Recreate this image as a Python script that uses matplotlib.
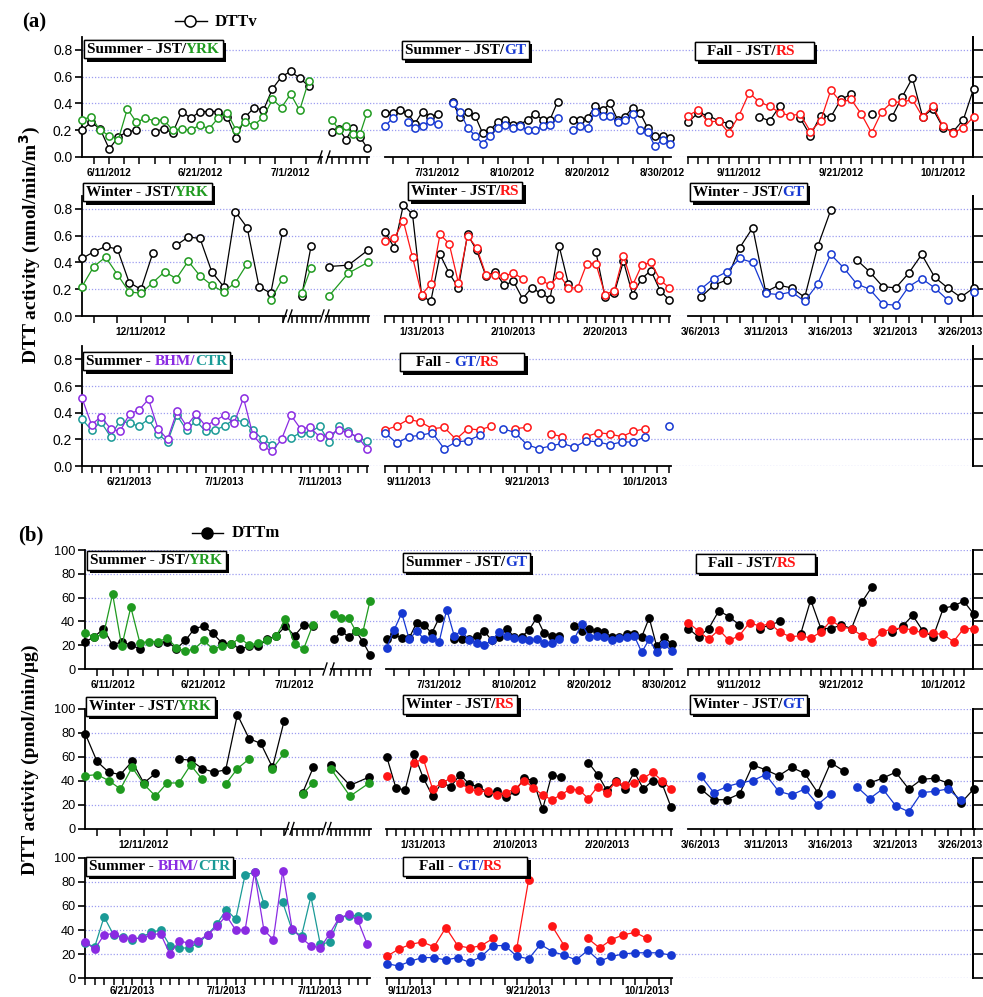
import matplotlib
matplotlib.use('Agg')
import matplotlib.pyplot as plt
import matplotlib.dates as mdates
from matplotlib.lines import Line2D
from matplotlib.offsetbox import TextArea, HPacker, AnchoredOffsetbox, DrawingArea
from matplotlib import patheffects as pe
from matplotlib.ticker import FixedLocator
import numpy as np
import pandas as pd

# ======================= DATA =======================
# ---- (a) DTTv (nmol/min/m3) ----
a_sum12_start = '2012-06-08'
a_sum12_jst = [0.20, 0.26, 0.21, 0.06, 0.15, 0.19, 0.20, None, 0.19, 0.21, 0.18, 0.34, 0.29, 0.34, 0.34, 0.34,
               0.30, 0.14, 0.30, 0.37, 0.35, 0.51, 0.60, 0.64, 0.59, 0.53]
a_sum12_yrk = [0.28, 0.30, 0.20, 0.16, 0.13, 0.36, 0.26, 0.29, 0.27, 0.28, 0.20, 0.21, 0.20, 0.24, 0.21, 0.29,
               0.33, 0.20, 0.26, 0.24, 0.30, 0.43, 0.37, 0.47, 0.35, 0.57]
a_sum12x_dates = ['2012-07-12', '2012-07-13', '2012-07-14', '2012-07-15', '2012-07-16', '2012-07-17']
a_sum12x_jst = [0.19, 0.21, 0.13, 0.22, 0.15, 0.07]
a_sum12x_yrk = [0.28, 0.20, 0.23, 0.17, 0.17, 0.33]

a_gt12_start = '2012-07-24'
a_gt12_jst = [0.33, 0.33, 0.35, 0.33, 0.25, 0.34, 0.30, 0.32, None, 0.41, 0.30, 0.34, 0.31, 0.18, 0.20, 0.26,
              0.28, 0.24, 0.24, 0.28, 0.32, 0.28, 0.28, 0.41, None, 0.28, 0.28, 0.29, 0.38, 0.35, 0.40, 0.28,
              0.30, 0.37, 0.33, 0.22, 0.16, 0.16, 0.14]
a_gt12_gt = [0.23, 0.29, None, 0.26, 0.22, 0.23, 0.27, 0.25, None, 0.40, 0.34, 0.22, 0.16, 0.10, 0.16, 0.22,
             0.24, 0.22, 0.23, 0.20, 0.20, 0.23, 0.24, 0.29, None, 0.20, 0.23, 0.22, 0.34, 0.31, 0.31, 0.26,
             0.28, 0.32, 0.20, 0.19, 0.08, 0.13, 0.10]

a_fall12_start = '2012-09-06'
a_fall12_jst = [0.26, 0.33, 0.31, 0.27, 0.25, None, None, 0.30, 0.27, 0.38, None, 0.29, 0.16, 0.31, 0.30, 0.43,
                0.47, None, 0.32, None, 0.30, 0.45, 0.59, 0.30, 0.36, 0.22, 0.19, 0.28, 0.51]
a_fall12_rs = [0.31, 0.35, 0.26, 0.27, 0.18, 0.31, 0.48, 0.41, 0.38, 0.33, 0.31, 0.32, 0.19, 0.27, 0.50, 0.41,
               0.43, 0.32, 0.18, 0.34, 0.41, 0.41, 0.43, 0.30, 0.38, 0.23, 0.18, 0.22, 0.30]

a_win_yrk_start = '2012-12-06'
a_win_yrk_jst = [0.43, 0.48, 0.52, 0.50, 0.25, 0.20, 0.47, None, 0.53, 0.59, 0.58, 0.33, 0.22, 0.78, 0.66, 0.22,
                 0.17, 0.63]
a_win_yrk_yrk = [0.22, 0.37, 0.44, 0.31, 0.18, 0.17, 0.25, 0.33, 0.28, 0.41, 0.30, 0.23, 0.18, 0.25, 0.39, None,
                 0.12, 0.28]
a_win_yrk2_dates = ['2012-12-27', '2012-12-28']
a_win_yrk2_jst = [0.15, 0.52]
a_win_yrk2_yrk = [0.17, 0.36]
a_win_yrk3_dates = ['2013-01-08', '2013-01-10', '2013-01-12']
a_win_yrk3_jst = [0.37, 0.38, 0.49]
a_win_yrk3_yrk = [0.15, 0.32, 0.40]

a_win_rs_start = '2013-01-27'
a_win_rs_jst = [0.63, 0.51, 0.83, 0.76, 0.15, 0.11, 0.46, 0.32, 0.21, 0.61, 0.49, 0.30, 0.33, 0.23, 0.26, 0.13,
                0.21, 0.17, 0.13, 0.52, 0.24, None, None, 0.48, 0.14, 0.17, 0.41, 0.16, 0.28, 0.34, 0.19, 0.12]
a_win_rs_rs = [0.56, 0.58, 0.71, 0.44, 0.16, 0.24, 0.61, 0.54, 0.25, 0.60, 0.51, 0.31, 0.31, 0.30, 0.32, 0.28,
               None, 0.27, 0.23, 0.31, 0.21, 0.21, 0.39, 0.39, 0.16, 0.19, 0.45, 0.23, 0.38, 0.40, 0.27, 0.21]

a_win_gt_start = '2013-03-06'
a_win_gt_jst = [0.14, 0.23, 0.27, 0.51, 0.66, 0.18, 0.23, 0.21, 0.14, 0.52, 0.79, None, 0.42, 0.33, 0.22, 0.21,
                0.32, 0.46, 0.29, 0.21, 0.14, 0.21]
a_win_gt_gt = [0.20, 0.28, 0.33, 0.43, 0.40, 0.17, 0.16, 0.18, 0.11, 0.24, 0.46, 0.36, 0.24, 0.20, 0.09, 0.08,
               0.22, 0.28, 0.21, 0.12, None, 0.18]

a_sum13_start = '2013-06-16'
a_sum13_bhm = [0.51, 0.31, 0.37, 0.28, 0.26, 0.39, 0.42, 0.50, 0.28, 0.20, 0.41, 0.30, 0.39, 0.30, 0.34, 0.38,
               0.32, 0.51, 0.23, 0.15, 0.11, 0.20, 0.38, 0.28, 0.29, 0.22, 0.23, 0.27, 0.25, 0.22, 0.13]
a_sum13_ctr = [0.35, 0.27, 0.33, 0.22, 0.34, 0.32, 0.30, 0.35, 0.24, 0.18, 0.38, 0.27, 0.34, 0.26, 0.27, 0.30,
               0.35, 0.33, 0.27, 0.20, 0.16, None, 0.21, 0.25, 0.25, 0.30, 0.18, 0.30, 0.26, 0.21, 0.19]

a_fall13_start = '2013-09-09'
a_fall13_rs = [0.27, 0.30, 0.35, 0.33, 0.28, 0.29, 0.20, 0.28, 0.27, 0.30, None, 0.28, 0.29, None, 0.24, 0.22,
               None, 0.22, 0.25, 0.24, 0.22, 0.26, 0.28]
a_fall13_gt = [0.25, 0.17, 0.22, 0.23, 0.25, 0.13, 0.18, 0.19, 0.23, None, 0.28, 0.25, 0.16, 0.13, 0.15, 0.17,
               0.14, 0.19, 0.18, 0.16, 0.18, 0.18, 0.22, None, 0.30]

# ---- (b) DTTm (pmol/min/ug) ----
b_sum12_start = '2012-06-08'
b_sum12_jst = [23, 27, 34, 20, 23, 20, 17, None, 22, 23, 17, 24, 34, 36, 30, 22, 21, 17, 19, 19, 25, 28, 36, 28,
               37, 36]
b_sum12_yrk = [30, 27, 29, 63, 19, 52, 22, 23, 23, 26, 18, 15, 17, 24, 17, 19, 21, 26, 20, 22, 24, 28, 42, 21,
               17, 37]
b_sum12x_dates = ['2012-07-12', '2012-07-13', '2012-07-14', '2012-07-15', '2012-07-16', '2012-07-17']
b_sum12x_jst = [25, 32, 27, 32, 23, 12]
b_sum12x_yrk = [46, 43, 43, 32, 31, 57]

b_gt12_start = '2012-07-24'
b_gt12_jst = [25, 29, 26, 26, 39, 37, 30, 43, None, 25, 25, 25, 28, 32, 24, 27, 34, 27, 27, 33, 43, 30, 28, 28,
              None, 36, 32, 34, 32, 31, 27, 27, 29, 29, 27, 43, 19, 27, 21]
b_gt12_gt = [18, 33, 47, 25, 32, 25, 26, 23, 50, 28, 32, 24, 22, 20, 24, 31, 28, 26, 25, 24, 25, 22, 22, 25,
             None, 25, 38, 27, 28, 27, 24, 26, 27, 28, 14, 25, 14, 21, 15]

b_fall12_start = '2012-09-06'
b_fall12_jst = [34, 27, 34, 49, 44, 37, None, 34, 37, 40, None, 29, 58, 34, 34, 37, 34, 56, 69, None, 31, 36, 45,
                32, 27, 51, 53, 57, 46]
b_fall12_rs = [39, 32, 25, 33, 24, 28, 39, 36, 38, 31, 27, 28, 26, 31, 41, 35, 34, 28, 23, 31, 34, 34, 33, 30,
               30, 29, 23, 34, 34]

b_win_yrk_start = '2012-12-06'
b_win_yrk_jst = [79, 56, 47, 45, 56, 38, 46, None, 58, 57, 50, 47, 49, 95, 75, 71, 51, 90]
b_win_yrk_yrk = [44, 45, 40, 33, 51, 37, 27, 38, 38, 53, 41, None, 37, 50, 58, None, 50, 63]
b_win_yrk2_dates = ['2012-12-27', '2012-12-28']
b_win_yrk2_jst = [30, 51]
b_win_yrk2_yrk = [29, 38]
b_win_yrk3_dates = ['2013-01-08', '2013-01-10', '2013-01-12']
b_win_yrk3_jst = [53, 36, 43]
b_win_yrk3_yrk = [50, 27, 38]

b_win_rs_start = '2013-01-27'
b_win_rs_jst = [60, 34, 32, 62, 42, 27, 38, 35, 45, 37, 35, 30, 31, 26, 31, 42, 40, 16, 45, 43, None, None, 55,
                45, 32, 40, 33, 47, 33, 40, 38, 18]
b_win_rs_rs = [44, None, None, 55, 58, 33, 38, 42, 38, 33, 31, 31, 28, 30, 33, 40, 34, 28, 24, 28, 33, 32, 25,
               35, 30, 39, 36, 38, 42, 47, 40, 33]

b_win_gt_start = '2013-03-06'
b_win_gt_jst = [33, 24, 24, 29, 53, 49, 44, 51, 46, 30, 55, 48, None, 38, 42, 47, 33, 41, 42, 38, 21, 33]
b_win_gt_gt = [44, 30, 35, 38, 40, 45, 31, 28, 33, 20, 29, None, 35, 25, 33, 19, 14, 30, 31, 33, 24, None]

b_sum13_start = '2013-06-16'
b_sum13_bhm = [30, 24, 36, 37, 33, 33, 33, 36, 37, 20, 31, 29, 31, 36, 43, 52, 40, 40, 88, 40, 32, 89, 41, 33,
               27, 25, 37, 50, 53, 48, 28]
b_sum13_ctr = [29, 26, 51, 36, 34, 32, 34, 38, 40, 27, 25, 25, 29, 36, 45, 57, 49, 86, 88, 62, None, 63, 40, 35,
               68, 28, 30, 50, 52, 52, 52]

b_fall13_start = '2013-09-09'
b_fall13_rs = [18, 24, 28, 30, 26, 42, 27, 25, 27, 33, None, 25, 82, None, 43, 27, None, 33, 25, 32, 36, 38, 33]
b_fall13_gt = [12, 10, 14, 17, 17, 15, 17, 13, 18, 27, 27, 18, 16, 28, 22, 19, 15, 23, 14, 18, 20, 21, 21, 21, 19]

# tick labels
a_yticks = [0.0, 0.2, 0.4, 0.6, 0.8]
a_yticklabels = ['0.0', '0.2', '0.4', '0.6', '0.8']
b_yticks = [0, 20, 40, 60, 80, 100]
b_yticklabels = ['0', '20', '40', '60', '80', '100']

# ======================= STYLE =======================
BLACK = 'black'
GREEN = '#1f9a1f'
BLUE = '#1638d2'
RED = '#ff1515'
PURPLE = '#8a2be2'
TEAL = '#1a9a96'
GRID = '#9d9df0'

W, H = 983, 997
fig = plt.figure(figsize=(W / 100, H / 100), dpi=100)
plt.rcParams['font.family'] = ['Liberation Sans', 'DejaVu Sans']


def rect(l, r, y0, ytop):
    return [l / W, 1 - y0 / H, (r - l) / W, (y0 - ytop) / H]


def dnum(s):
    return mdates.date2num(pd.Timestamp(s).to_pydatetime())


def vals(v):
    return np.array([np.nan if x is None else x for x in v], dtype=float)


def daily(start, v):
    d = pd.date_range(start, periods=len(v), freq='D')
    return mdates.date2num(d.to_pydatetime()), vals(v)


def listed(dates, v):
    return np.array([dnum(d) for d in dates]), vals(v)


def make_row(y0, ytop, ylim, yt, ytl, left, fs):
    ax = fig.add_axes(rect(left, 973, y0, ytop))
    ax.set_facecolor('none')
    ax.set_xlim(0, 1)
    ax.set_ylim(*ylim)
    ax.set_xticks([])
    ax.set_yticks(yt)
    ax.set_yticklabels(ytl, fontsize=fs)
    ax.tick_params(axis='y', direction='out', length=5, width=1.2, pad=2, left=True, right=False)
    ax.yaxis.grid(True, linestyle=(0, (1, 1.5)), color=GRID, linewidth=0.9)
    ax.set_axisbelow(True)
    for s in ['top', 'bottom']:
        ax.spines[s].set_visible(False)
    ax.spines['left'].set_linewidth(1.3)
    ax.spines['right'].set_linewidth(1.3)
    ax2 = ax.twinx()
    ax2.set_ylim(*ylim)
    ax2.set_yticks(yt)
    ax2.set_yticklabels([])
    ax2.tick_params(axis='y', direction='out', length=9, width=1.2, right=True, left=False)
    for s in ['top', 'bottom', 'left']:
        ax2.spines[s].set_visible(False)
    ax2.spines['right'].set_linewidth(1.3)
    return ax


def make_seg(y0, ytop, ylim, l, r, x_first, p_first, ppd, major0=None, nmajor=0, mstep=10, minor=1.0, pad=3):
    ax = fig.add_axes(rect(l, r, y0, ytop))
    ax.set_facecolor('none')
    x0 = x_first
    lo = x0 - (p_first - l) / ppd
    hi = x0 + (r - p_first) / ppd
    ax.set_xlim(lo, hi)
    ax.set_ylim(*ylim)
    for s in ['left', 'right', 'top']:
        ax.spines[s].set_visible(False)
    ax.spines['bottom'].set_linewidth(1.3)
    ax.set_yticks([])
    if major0 is not None:
        m0 = dnum(major0)
        majors = [m0 + mstep * k for k in range(nmajor)]
        ax.xaxis.set_major_locator(FixedLocator(majors))
        ax.xaxis.set_major_formatter(mdates.DateFormatter('%-m/%-d/%Y'))
        ref = m0
    else:
        ax.set_xticks([])
        ref = x0
    k0 = int(np.floor((lo - ref) / minor)) - 1
    k1 = int(np.ceil((hi - ref) / minor)) + 1
    mins = [ref + k * minor for k in range(k0, k1) if lo - 1e-6 <= ref + k * minor <= hi + 1e-6]
    ax.xaxis.set_minor_locator(FixedLocator(mins))
    ax.tick_params(axis='x', which='both', direction='out', width=1.1, pad=pad)
    ax.tick_params(axis='x', which='major', length=5, labelsize=7.3)
    ax.tick_params(axis='x', which='minor', length=5)
    for t in ax.get_xticklabels():
        t.set_fontweight('bold')
    return ax


def draw(ax, x, ys, colors, filled):
    for y, c in zip(ys, colors):
        ax.plot(x, y, '-', color=c, lw=0.9, marker='o', ms=5.2, mew=1.1,
                mfc=(c if filled else 'white'), mec=c, clip_on=False, zorder=3)


def box(xpx, ypx, parts, lpad=0, rpad=0):
    kids = []
    if lpad:
        kids.append(DrawingArea(lpad * 0.72, 1))
    for t, c in parts:
        kids.append(TextArea(t, textprops=dict(color=c, fontsize=11, fontweight='bold',
                                               family='Liberation Serif')))
    if rpad:
        kids.append(DrawingArea(rpad * 0.72, 1))
    pack = HPacker(children=kids, align='baseline', pad=0, sep=0)
    ab = AnchoredOffsetbox(loc='upper left', child=pack, pad=0.18, borderpad=0, frameon=True,
                           bbox_to_anchor=(xpx / W, 1 - ypx / H), bbox_transform=fig.transFigure,
                           prop=dict(size=11))
    ab.patch.set_boxstyle('square', pad=0)
    ab.patch.set_edgecolor('black')
    ab.patch.set_linewidth(1.0)
    ab.patch.set_path_effects([pe.withSimplePatchShadow(offset=(2.4, -2.4), shadow_rgbFace='black', alpha=1.0),
                               pe.Normal()])
    ab.set_zorder(10)
    fig.add_artist(ab)


def brk(xpx, y0):
    for x in xpx:
        fig.add_artist(Line2D([(x - 2) / W, (x + 2) / W], [1 - (y0 + 6) / H, 1 - (y0 - 6) / H],
                              color='black', lw=1.0))


# ======================= (a) =======================
rows_a = [(157, 36.6), (316, 195.6), (466, 346)]
for y0, yt in rows_a:
    make_row(y0, yt, (0, 0.9), a_yticks, a_yticklabels, 82, 10)

# row 1
y0, yt = rows_a[0]
x, j = daily(a_sum12_start, a_sum12_jst); _, g = daily(a_sum12_start, a_sum12_yrk)
ax = make_seg(y0, yt, (0, 0.9), 82, 322, x[0], 82, 9.07, '2012-06-11', 3, 10, 10 / 6)
draw(ax, x, [j, g], [BLACK, GREEN], False)
x, j = listed(a_sum12x_dates, a_sum12x_jst); _, g = listed(a_sum12x_dates, a_sum12x_yrk)
ax = make_seg(y0, yt, (0, 0.9), 328, 369, x[0], 332, 7.0, None, minor=1.0)
draw(ax, x, [j, g], [BLACK, GREEN], False)
brk([320, 328], y0)
x, j = daily(a_gt12_start, a_gt12_jst); _, g = daily(a_gt12_start, a_gt12_gt)
ax = make_seg(y0, yt, (0, 0.9), 385, 671, x[0], 385, 7.5, '2012-07-31', 4, 10, 2)
draw(ax, x, [j, g], [BLACK, BLUE], False)
x, j = daily(a_fall12_start, a_fall12_jst); _, g = daily(a_fall12_start, a_fall12_rs)
ax = make_seg(y0, yt, (0, 0.9), 688, 973, x[0], 688, 10.2, '2012-09-11', 3, 10, 1)
draw(ax, x, [j, g], [BLACK, RED], False)

# row 2
y0, yt = rows_a[1]
x, j = daily(a_win_yrk_start, a_win_yrk_jst); _, g = daily(a_win_yrk_start, a_win_yrk_yrk)
ax = make_seg(y0, yt, (0, 0.9), 82, 286, x[0], 82, 11.8, '2012-12-11', 1, 10, 2)
draw(ax, x, [j, g], [BLACK, GREEN], False)
x, j = listed(a_win_yrk2_dates, a_win_yrk2_jst); _, g = listed(a_win_yrk2_dates, a_win_yrk2_yrk)
ax = make_seg(y0, yt, (0, 0.9), 290, 320, x[0], 301.7, 9.3, None, minor=0.5)
draw(ax, x, [j, g], [BLACK, GREEN], False)
x, j = listed(a_win_yrk3_dates, a_win_yrk3_jst); _, g = listed(a_win_yrk3_dates, a_win_yrk3_yrk)
ax = make_seg(y0, yt, (0, 0.9), 326, 369, x[0], 329, 9.65, None, minor=0.5)
draw(ax, x, [j, g], [BLACK, GREEN], False)
brk([285, 290, 322, 327], y0)
x, j = daily(a_win_rs_start, a_win_rs_jst); _, g = daily(a_win_rs_start, a_win_rs_rs)
ax = make_seg(y0, yt, (0, 0.9), 385, 670, x[0], 385, 9.17, '2013-01-31', 3, 10, 1)
draw(ax, x, [j, g], [BLACK, RED], False)
x, j = daily(a_win_gt_start, a_win_gt_jst); _, g = daily(a_win_gt_start, a_win_gt_gt)
ax = make_seg(y0, yt, (0, 0.9), 688, 973, x[0], 700.7, 13.0, '2013-03-06', 5, 5, 1)
draw(ax, x, [j, g], [BLACK, BLUE], False)

# row 3
y0, yt = rows_a[2]
x, p = daily(a_sum13_start, a_sum13_bhm); _, c = daily(a_sum13_start, a_sum13_ctr)
ax = make_seg(y0, yt, (0, 0.9), 82, 368, x[0], 82, 9.5, '2013-06-21', 3, 10, 1)
draw(ax, x, [c, p], [TEAL, PURPLE], False)
xr, r = daily(a_fall13_start, a_fall13_rs); xg, g = daily(a_fall13_start, a_fall13_gt)
ax = make_seg(y0, yt, (0, 0.9), 385, 671, xg[0], 385, 11.83, '2013-09-11', 3, 10, 1)
draw(ax, xr, [r], [RED], False)
draw(ax, xg, [g], [BLUE], False)

# ======================= (b) =======================
rows_b = [(669, 550), (828.5, 708.7), (978, 858)]
for y0, yt in rows_b:
    make_row(y0, yt, (0, 100), b_yticks, b_yticklabels, 85, 9.2)

y0, yt = rows_b[0]
x, j = daily(b_sum12_start, b_sum12_jst); _, g = daily(b_sum12_start, b_sum12_yrk)
ax = make_seg(y0, yt, (0, 100), 85, 323, x[0], 85.3, 9.1, '2012-06-11', 3, 10, 10 / 6)
draw(ax, x, [j, g], [BLACK, GREEN], True)
x, j = listed(b_sum12x_dates, b_sum12x_jst); _, g = listed(b_sum12x_dates, b_sum12x_yrk)
ax = make_seg(y0, yt, (0, 100), 331, 371, x[0], 334.3, 7.13, None, minor=1.0)
draw(ax, x, [j, g], [BLACK, GREEN], True)
brk([325, 332], y0)
x, j = daily(b_gt12_start, b_gt12_jst); _, g = daily(b_gt12_start, b_gt12_gt)
ax = make_seg(y0, yt, (0, 100), 386, 672, x[0], 386.7, 7.5, '2012-07-31', 4, 10, 2)
draw(ax, x, [j, g], [BLACK, BLUE], True)
x, j = daily(b_fall12_start, b_fall12_jst); _, g = daily(b_fall12_start, b_fall12_rs)
ax = make_seg(y0, yt, (0, 100), 688, 973, x[0], 688.3, 10.2, '2012-09-11', 3, 10, 1)
draw(ax, x, [j, g], [BLACK, RED], True)

y0, yt = rows_b[1]
x, j = daily(b_win_yrk_start, b_win_yrk_jst); _, g = daily(b_win_yrk_start, b_win_yrk_yrk)
ax = make_seg(y0, yt, (0, 100), 85, 288, x[0], 85.3, 11.7, '2012-12-11', 1, 10, 2)
draw(ax, x, [j, g], [BLACK, GREEN], True)
x, j = listed(b_win_yrk2_dates, b_win_yrk2_jst); _, g = listed(b_win_yrk2_dates, b_win_yrk2_yrk)
ax = make_seg(y0, yt, (0, 100), 292, 322, x[0], 302.7, 10.6, None, minor=0.5)
draw(ax, x, [j, g], [BLACK, GREEN], True)
x, j = listed(b_win_yrk3_dates, b_win_yrk3_jst); _, g = listed(b_win_yrk3_dates, b_win_yrk3_yrk)
ax = make_seg(y0, yt, (0, 100), 328, 371, x[0], 330.7, 9.65, None, minor=0.5)
draw(ax, x, [j, g], [BLACK, GREEN], True)
brk([287, 292, 324, 329], y0)
x, j = daily(b_win_rs_start, b_win_rs_jst); _, g = daily(b_win_rs_start, b_win_rs_rs)
ax = make_seg(y0, yt, (0, 100), 386, 672, x[0], 386.7, 9.17, '2013-01-31', 3, 10, 1)
draw(ax, x, [j, g], [BLACK, RED], True)
x, j = daily(b_win_gt_start, b_win_gt_jst); _, g = daily(b_win_gt_start, b_win_gt_gt)
ax = make_seg(y0, yt, (0, 100), 688, 975, x[0], 700.7, 13.0, '2013-03-06', 5, 5, 1)
draw(ax, x, [j, g], [BLACK, BLUE], True)

y0, yt = rows_b[2]
x, p = daily(b_sum13_start, b_sum13_bhm); _, c = daily(b_sum13_start, b_sum13_ctr)
ax = make_seg(y0, yt, (0, 100), 85, 370, x[0], 85.3, 9.4, '2013-06-21', 3, 10, 1, pad=0.6)
draw(ax, x, [c, p], [TEAL, PURPLE], True)
xr, r = daily(b_fall13_start, b_fall13_rs); xg, g = daily(b_fall13_start, b_fall13_gt)
ax = make_seg(y0, yt, (0, 100), 386, 672, xg[0], 386.7, 11.83, '2013-09-11', 3, 10, 1, pad=0.6)
draw(ax, xr, [r], [RED], True)
draw(ax, xg, [g], [BLUE], True)

# ======================= labels & boxes =======================
box(84, 40, [('Summer - JST/', BLACK), ('YRK', GREEN)])
box(402, 41, [('Summer - JST/', BLACK), ('GT', BLUE)])
box(695, 42, [('Fall - JST/', BLACK), ('RS', RED)], 9, 16)
box(83, 183, [('Winter - JST/', BLACK), ('YRK', GREEN)])
box(408, 182, [('Winter - JST/', BLACK), ('RS', RED)])
box(690, 183, [('Winter - JST/', BLACK), ('GT', BLUE)])
box(83, 352, [('Summer - ', BLACK), ('BHM/', PURPLE), ('CTR', TEAL)])
box(400, 353, [('Fall - ', BLACK), ('GT/', BLUE), ('RS', RED)], 13, 22)

box(87, 551, [('Summer - JST/', BLACK), ('YRK', GREEN)])
box(403, 553, [('Summer - JST/', BLACK), ('GT', BLUE)])
box(696, 554, [('Fall - JST/', BLACK), ('RS', RED)], 9, 16)
box(86, 697, [('Winter - JST/', BLACK), ('YRK', GREEN)])
box(403, 695, [('Winter - JST/', BLACK), ('RS', RED)])
box(690, 695, [('Winter - JST/', BLACK), ('GT', BLUE)])
box(86, 857, [('Summer - ', BLACK), ('BHM/', PURPLE), ('CTR', TEAL)])
box(403, 857, [('Fall - ', BLACK), ('GT/', BLUE), ('RS', RED)], 13, 22)

serif = 'Liberation Serif'
fig.text(22 / W, 1 - 22 / H, '(a)', fontsize=15, fontweight='bold', family=serif, va='center', ha='left')
fig.text(18 / W, 1 - 535 / H, '(b)', fontsize=15, fontweight='bold', family=serif, va='center', ha='left')

# legend glyphs
fig.add_artist(Line2D([175 / W, 190 / W, 207 / W], [1 - 21.5 / H] * 3, color='black', lw=1.0, marker='o',
                      ms=8, mfc='white', mec='black', mew=1.1, markevery=[1]))
fig.text(215 / W, 1 - 21.5 / H, 'DTTv', fontsize=12, fontweight='bold', family=serif, va='center', ha='left')
fig.add_artist(Line2D([192 / W, 207 / W, 223 / W], [1 - 533 / H] * 3, color='black', lw=1.0, marker='o',
                      ms=8, mfc='black', mec='black', markevery=[1]))
fig.text(232 / W, 1 - 533 / H, 'DTTm', fontsize=12, fontweight='bold', family=serif, va='center', ha='left')

fig.text(30 / W, 1 - 245 / H, 'DTT activity (nmol/min/m$^{\\mathbf{3}}$)', fontsize=14, fontweight='bold',
         family=serif, rotation=90, va='center', ha='center')
fig.text(30 / W, 1 - 760 / H, 'DTT activity (pmol/min/\u03bcg)', fontsize=14, fontweight='bold',
         family=serif, rotation=90, va='center', ha='center')

fig.savefig('out.png', dpi=100)
